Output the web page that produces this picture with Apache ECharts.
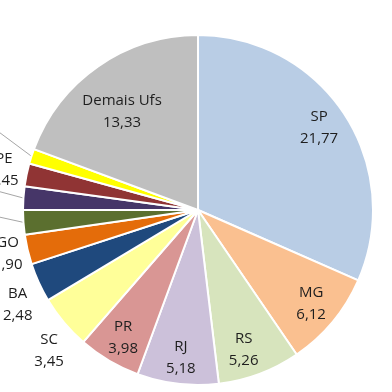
<!DOCTYPE html>
<html><head><meta charset="utf-8">
<script src="https://cdn.jsdelivr.net/npm/echarts@6/dist/echarts.min.js"></script>
<style>html,body{margin:0;padding:0;background:#fff}#c{width:392px;height:392px}</style>
</head><body><div id="c"></div>
<script>
const categories = ['SP','MG','RS','RJ','PR','SC','BA','GO','DF','ES','PE','CE','Demais Ufs'];
const values = [21.77, 6.12, 5.26, 5.18, 3.98, 3.45, 2.48, 1.90, 1.55, 1.50, 1.45, 0.95, 13.33];
const colors = ['#b9cde5','#fac090','#d7e4bd','#ccc1da','#d99694','#ffff99','#1f497d','#e46c0a','#5b6f2f','#463668','#903434','#ffff00','#bfbfbf'];
// label distance from centre as a fraction of radius, plus small nudges
const labelRadius = [0.84,0.84,0.84,0.84,0.84,1.17,1.17,1.14,1.4,1.4,1.15,1.4,0.72];
const labelShiftX = [-2,0,-6,0,0,8,6,4,0,0,3,0,-4];
const labelShiftY = [-2,0,2,2,1,9,10,-1,-17,-10,0,-50,5];
const guideLine = [false,false,false,false,false,false,false,false,true,true,false,true,false];

const CX = 198, CY = 210, R = 175;
const total = values.reduce((a,b)=>a+b,0);
const midAngles = [];
let acc = 0;
values.forEach(v => { midAngles.push((acc + v/2) / total * Math.PI * 2); acc += v; });

const fmt = v => v.toFixed(2).replace('.', ',');

const chart = echarts.init(document.getElementById('c'), null, {renderer:'canvas'});
chart.setOption({
  backgroundColor: '#fff',
  animation: false,
  series: [{
    type: 'pie',
    center: [CX, CY],
    radius: [0, R],
    startAngle: 90,
    clockwise: true,
    avoidLabelOverlap: false,
    itemStyle: { borderColor: '#fff', borderWidth: 2 },
    label: {
      position: 'inside',
      formatter: p => p.name + '\n' + fmt(p.value),
      fontFamily: 'Open Sans',
      fontSize: 15,
      lineHeight: 22,
      color: '#1e1e1e'
    },
    labelLine: { show: false },
    labelLayout: function (params) {
      const i = params.dataIndex;
      const a = midAngles[i];
      return {
        x: CX + Math.sin(a) * R * labelRadius[i] + labelShiftX[i],
        y: CY - Math.cos(a) * R * labelRadius[i] + labelShiftY[i],
        align: 'center',
        verticalAlign: 'middle'
      };
    },
    data: categories.map((c, i) => ({
      name: c,
      value: values[i],
      itemStyle: { color: colors[i] },
      label: guideLine[i] ? { position: 'outside' } : undefined,
      labelLine: guideLine[i] ? { show: true, length: 10, length2: 0, smooth: false, lineStyle: { color: '#a6a6a6', width: 1 } } : undefined
    }))
  }]
});
</script>
</body></html>
